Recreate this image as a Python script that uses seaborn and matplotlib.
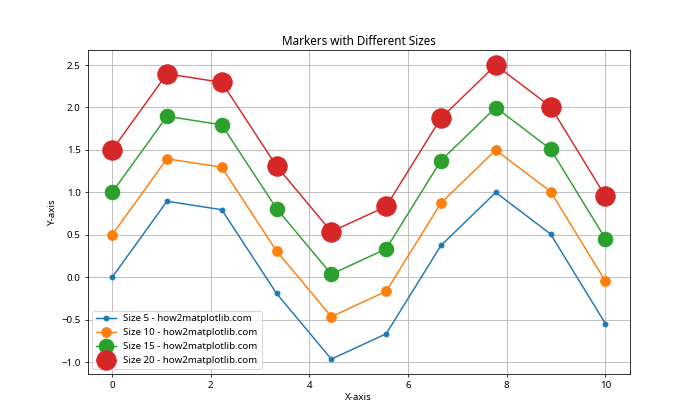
import matplotlib
matplotlib.use("Agg")
import matplotlib.pyplot as plt
import seaborn as sns
import pandas as pd

x_values = [0.0, 1.111, 2.222, 3.333, 4.444, 5.556, 6.667, 7.778, 8.889, 10.0]
base_values = [0.0, 0.896, 0.796, -0.190, -0.963, -0.665, 0.375, 0.999, 0.510, -0.544]
offsets = [0.0, 0.5, 1.0, 1.5]
sizes = [5, 10, 15, 20]
series_y = [
    [0.0, 0.896, 0.796, -0.190, -0.963, -0.665, 0.375, 0.999, 0.510, -0.544],
    [0.5, 1.396, 1.296, 0.310, -0.463, -0.165, 0.875, 1.499, 1.010, -0.044],
    [1.0, 1.896, 1.796, 0.810, 0.037, 0.335, 1.375, 1.999, 1.510, 0.456],
    [1.5, 2.396, 2.296, 1.310, 0.537, 0.835, 1.875, 2.499, 2.010, 0.956],
]
colors = ["#1f77b4", "#ff7f0e", "#2ca02c", "#d62728"]

plt.rcParams['font.family'] = ['Noto Sans', 'DejaVu Sans']

fig, ax = plt.subplots(figsize=(10, 6), dpi=70)
for s, ys, c in zip(sizes, series_y, colors):
    df = pd.DataFrame({"x": x_values, "y": ys})
    sns.lineplot(data=df, x="x", y="y", ax=ax, marker="o", markersize=s,
                 color=c, markeredgecolor=c, markeredgewidth=1.0,
                 label=f"Size {s} - how2matplotlib.com")

ax.set_title("Markers with Different Sizes")
ax.set_xlabel("X-axis")
ax.set_ylabel("Y-axis")
ax.grid(True)
ax.legend(loc="lower left")
fig.savefig("out.png", dpi=70)
